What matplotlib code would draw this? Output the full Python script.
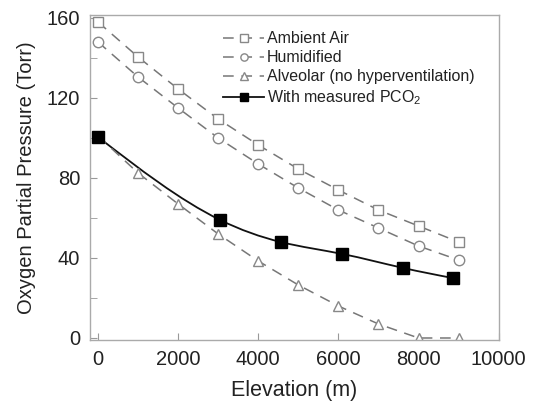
import numpy as np
import matplotlib
matplotlib.use("Agg")
import matplotlib.pyplot as plt
from matplotlib.path import Path
from matplotlib.patches import PathPatch

plt.rcParams['font.family'] = ['Liberation Sans', 'DejaVu Sans']
plt.rcParams['mathtext.fontset'] = 'custom'
plt.rcParams['mathtext.rm'] = 'Liberation Sans'

elev = [0, 1000, 2000, 3000, 4000, 5000, 6000, 7000, 8000, 9000]
ambient = [158, 140.5, 124.5, 109.5, 96.5, 84.5, 74, 64, 56, 48]
humidified = [148, 130.5, 115, 100, 87, 75, 64, 55, 46, 39]
alveolar = [101, 82.5, 67, 52, 38.5, 26.5, 16, 7, 0, 0]
meas_elev = [0, 3050, 4560, 6100, 7620, 8848]
meas_po2 = [100.5, 59, 48, 42, 35, 30]

fig = plt.figure(figsize=(5.37, 4.05), dpi=100)
ax = fig.add_axes([0.1676, 0.1605, 0.761, 0.8025])

grey = '#777777'
dash = (0, (7, 5))
ax.plot(elev, ambient, linestyle=dash, color=grey, lw=1.1, marker='s', ms=7.5,
        mfc='white', mec='#888888', mew=1.0, label='Ambient Air')
ax.plot(elev, humidified, linestyle=dash, color=grey, lw=1.1, marker='o', ms=7.5,
        mfc='white', mec='#888888', mew=1.0, label='Humidified')
ax.plot(elev, alveolar, linestyle=dash, color=grey, lw=1.1, marker='^', ms=7.5,
        mfc='white', mec='#888888', mew=1.0, label='Alveolar (no hyperventilation)')

# natural cubic spline through measured points, drawn as Bezier path
xs = np.array(meas_elev, float)
ys = np.array(meas_po2, float)
n = len(xs)
h = np.diff(xs)
A = np.zeros((n, n))
b = np.zeros(n)
A[0, 0] = 1
A[-1, -1] = 1
for i in range(1, n - 1):
    A[i, i - 1] = h[i - 1]
    A[i, i] = 2 * (h[i - 1] + h[i])
    A[i, i + 1] = h[i]
    b[i] = 6 * ((ys[i + 1] - ys[i]) / h[i] - (ys[i] - ys[i - 1]) / h[i - 1])
M = np.linalg.solve(A, b)
verts = [(xs[0], ys[0])]
codes = [Path.MOVETO]
for i in range(n - 1):
    d0 = (ys[i + 1] - ys[i]) / h[i] - h[i] * (2 * M[i] + M[i + 1]) / 6
    d1 = (ys[i + 1] - ys[i]) / h[i] + h[i] * (M[i] + 2 * M[i + 1]) / 6
    verts += [(xs[i] + h[i] / 3, ys[i] + d0 * h[i] / 3),
              (xs[i + 1] - h[i] / 3, ys[i + 1] - d1 * h[i] / 3),
              (xs[i + 1], ys[i + 1])]
    codes += [Path.CURVE4] * 3
ax.add_patch(PathPatch(Path(verts, codes), fill=False, edgecolor='#111111', lw=1.3))
ax.plot(meas_elev, meas_po2, linestyle='none', marker='s', ms=8, color='black')
ax.plot([], [], '-', color='#111111', lw=1.3, marker='s', ms=8, mfc='black', mec='black',
        label=r'With measured PCO$_2$')

ax.set_xlim(-200, 10000)
ax.set_ylim(-1, 161.5)
ax.set_xticks([0, 2000, 4000, 6000, 8000, 10000])
ax.set_yticks([0, 40, 80, 120, 160])
ax.set_yticks(np.arange(0, 161, 20), minor=True)
ax.tick_params(axis='both', which='both', direction='in', color='#999999', labelsize=14.5,
               labelcolor='#222222')
ax.tick_params(axis='y', which='major', length=5, pad=7)
ax.tick_params(axis='y', which='minor', length=5)
ax.tick_params(axis='x', which='major', length=5, pad=7)
for s in ax.spines.values():
    s.set_color('#aaaaaa')
    s.set_linewidth(1.0)

ax.set_xlabel('Elevation (m)', fontsize=15.5, color='#222222', labelpad=8)
ax.set_ylabel('Oxygen Partial Pressure (Torr)', fontsize=14.5, color='#222222', labelpad=8)

leg = ax.legend(loc='upper left', bbox_to_anchor=(0.325, 0.95), frameon=False, fontsize=11.5,
                handlelength=2.6, handletextpad=0.15, labelspacing=0.25, borderaxespad=0,
                borderpad=0, markerscale=0.7)
for t in leg.get_texts():
    t.set_color('#222222')

fig.savefig('out.png', dpi=100)
